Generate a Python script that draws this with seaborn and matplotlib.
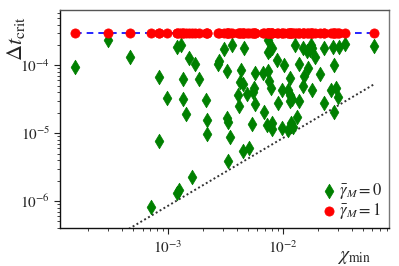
import numpy as np
import pandas as pd
import matplotlib
matplotlib.use("Agg")
import matplotlib.pyplot as plt
import seaborn as sns
from matplotlib.ticker import LogLocator, NullFormatter

# ---- data ----
chi_min = [1.55e-4, 3.0e-4, 4.68e-4, 7.11e-4, 8.35e-4, 8.4e-4, 9.8e-4, 1.20e-3, 1.20e-3, 1.25e-3,
           1.30e-3, 1.35e-3, 1.35e-3, 1.43e-3, 1.52e-3, 1.62e-3, 1.72e-3, 1.86e-3, 2.14e-3, 2.18e-3,
           2.18e-3, 2.72e-3, 2.78e-3, 3.07e-3, 3.26e-3, 3.26e-3, 3.32e-3, 3.32e-3, 3.46e-3, 3.60e-3,
           4.06e-3, 4.14e-3, 4.23e-3, 4.31e-3, 4.49e-3, 4.49e-3, 4.58e-3, 4.86e-3, 5.06e-3, 5.37e-3,
           5.48e-3, 5.59e-3, 5.71e-3, 5.71e-3, 6.70e-3, 6.84e-3, 7.26e-3, 7.41e-3, 7.41e-3, 7.41e-3,
           7.56e-3, 7.71e-3, 7.87e-3, 8.02e-3, 8.02e-3, 8.02e-3, 8.87e-3, 9.06e-3, 9.80e-3, 9.80e-3,
           1.02e-2, 1.10e-2, 1.10e-2, 1.15e-2, 1.15e-2, 1.15e-2, 1.17e-2, 1.20e-2, 1.22e-2, 1.27e-2,
           1.32e-2, 1.38e-2, 1.38e-2, 1.49e-2, 1.49e-2, 1.52e-2, 1.62e-2, 1.65e-2, 1.72e-2, 1.75e-2,
           1.79e-2, 1.79e-2, 1.90e-2, 2.10e-2, 2.27e-2, 2.27e-2, 2.61e-2, 2.72e-2, 2.78e-2, 2.78e-2,
           2.89e-2, 3.01e-2, 3.07e-2, 3.46e-2, 6.18e-2]
dt_gamma0 = [9.35e-5, 2.33e-4, 1.31e-4, 8.16e-7, 6.66e-5, 7.62e-6, 3.27e-5, 1.84e-4, 1.31e-6, 1.45e-6,
             1.97e-4, 6.22e-5, 3.16e-5, 1.90e-5, 1.27e-4, 2.25e-6, 1.03e-4, 6.22e-5, 3.06e-5, 1.55e-5,
             9.67e-6, 1.03e-4, 1.15e-4, 1.72e-4, 8.16e-5, 1.66e-5, 1.45e-5, 3.87e-6, 8.73e-6, 1.97e-4,
             3.62e-5, 2.49e-5, 5.62e-5, 8.44e-5, 5.26e-5, 5.43e-6, 1.78e-4, 3.75e-5, 6.01e-6, 1.36e-5,
             4.01e-5, 4.59e-5, 7.62e-5, 2.67e-5, 7.62e-5, 2.04e-5, 1.31e-5, 2.33e-4, 8.16e-5, 1.55e-4,
             5.82e-5, 1.66e-4, 4.59e-5, 1.78e-4, 1.40e-5, 1.15e-5, 1.19e-4, 2.76e-5, 4.29e-5, 1.19e-5,
             1.00e-4, 4.29e-5, 1.11e-5, 6.44e-5, 3.62e-5, 2.96e-5, 1.40e-5, 3.16e-5, 1.23e-5, 1.97e-4,
             1.72e-5, 1.03e-4, 2.96e-5, 1.78e-4, 4.91e-5, 6.89e-5, 1.61e-4, 9.04e-5, 1.66e-4, 1.97e-4,
             1.78e-4, 4.29e-5, 1.31e-4, 7.38e-5, 1.78e-4, 2.76e-5, 4.29e-5, 1.84e-4, 1.00e-4, 2.04e-5,
             4.59e-5, 3.38e-5, 1.84e-4, 2.04e-4, 1.90e-4]
dt_gamma1_value = 3.0e-4
bound_coeff = 8.5e-4          # dotted bound: dt = coeff * chi
legend_labels = [r"$\bar{\gamma}_M = 0$", r"$\bar{\gamma}_M = 1$"]
x_label = r"$\chi_{\rm min}$"
y_label = r"$\Delta t_{\rm crit}$"

chi = np.array(chi_min)
df0 = pd.DataFrame({"chi": chi, "dt": np.array(dt_gamma0)})
df1 = pd.DataFrame({"chi": chi, "dt": np.full(len(chi), dt_gamma1_value)})
bound_x = np.array([chi.min(), chi.max()])
df_bound = pd.DataFrame({"chi": bound_x, "dt": bound_coeff * bound_x})

# ---- style ----
sns.set_theme(style="ticks")
plt.rcParams["font.family"] = ["STIXGeneral", "DejaVu Serif"]
plt.rcParams["mathtext.fontset"] = "stix"

fig = plt.figure(figsize=(3.99, 2.66), dpi=100)
ax = fig.add_axes([60/399, 1 - 228/266, 329/399, 218/266])

sns.lineplot(data=df_bound, x="chi", y="dt", ax=ax, color="#333333",
             linestyle=(0, (1, 1.3)), linewidth=1.4, legend=False)
sns.lineplot(data=df1, x="chi", y="dt", ax=ax, color="blue",
             linestyle=(0, (4, 3)), linewidth=1.2, legend=False, sort=True,
             estimator=None, errorbar=None)
sns.scatterplot(data=df0, x="chi", y="dt", ax=ax, marker="d", s=55,
                color="green", edgecolor="green", linewidth=0.5,
                label=legend_labels[0], zorder=3)
sns.scatterplot(data=df1, x="chi", y="dt", ax=ax, marker="o", s=44,
                color="red", edgecolor="red", linewidth=0.5,
                label=legend_labels[1], zorder=4)

ax.set_xscale("log")
ax.set_yscale("log")
ax.set_xlim(1.15e-4, 8.35e-2)
ax.set_ylim(4.0e-7, 6.55e-4)

ax.xaxis.set_major_locator(LogLocator(base=10, numticks=10))
ax.yaxis.set_major_locator(LogLocator(base=10, numticks=10))
ax.xaxis.set_minor_locator(LogLocator(base=10, subs=np.arange(2, 10), numticks=20))
ax.yaxis.set_minor_locator(LogLocator(base=10, subs=np.arange(2, 10), numticks=20))
ax.xaxis.set_minor_formatter(NullFormatter())
ax.yaxis.set_minor_formatter(NullFormatter())
ax.tick_params(which="major", length=4, width=0.8, labelsize=11, color="#222222", pad=3)
ax.tick_params(which="minor", length=2, width=0.6, color="#222222")
ax.tick_params(axis="x", which="major", pad=4)

for side in ["left", "bottom", "top", "right"]:
    ax.spines[side].set_visible(True)
    ax.spines[side].set_linewidth(1.0)
ax.spines["left"].set_color("#111111")
ax.spines["bottom"].set_color("#111111")
ax.spines["top"].set_color("#555555")
ax.spines["right"].set_color("#777777")

ax.set_xlabel(x_label, fontsize=14)
ax.set_ylabel(y_label, fontsize=16)
ax.xaxis.set_label_coords(0.895, -0.095)
ax.yaxis.set_label_coords(-0.10, 0.87)

leg = ax.legend(loc="lower right", frameon=False, fontsize=12,
                handletextpad=0.0, borderaxespad=0.2, labelspacing=0.0,
                handlelength=1.2, borderpad=0.2)

fig.savefig("out.png", dpi=100)
